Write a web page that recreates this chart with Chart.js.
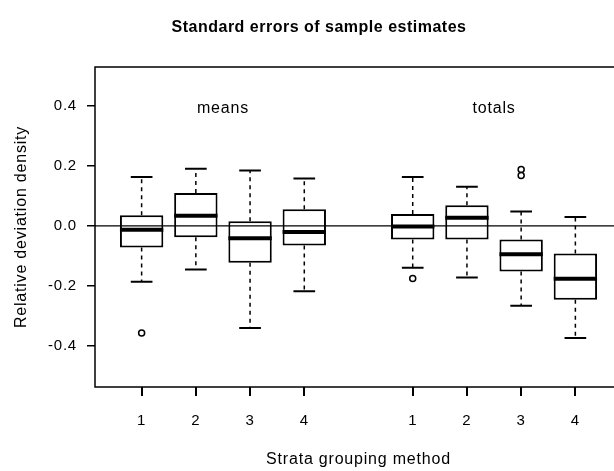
<!DOCTYPE html>
<html>
<head>
<meta charset="utf-8">
<script src="https://cdn.jsdelivr.net/npm/chart.js@4/dist/chart.umd.min.js"></script>
<style>
  html, body { margin: 0; padding: 0; overflow: hidden; background: #fff; }
  #wrap { width: 630px; height: 471px; }
</style>
</head>
<body>
<div id="wrap"><canvas id="chart"></canvas></div>
<script>
// box positions on the x axis (gap at 5 between the two groups)
const positions = [1, 2, 3, 4, 6, 7, 8, 9]
const tickLabels = ['1', '2', '3', '4', '1', '2', '3', '4']
const yTicks = [-0.4, -0.2, 0.0, 0.2, 0.4]
const groupLabels = ['means', 'totals']

// five number summaries
const lowerWhisker = [-0.186, -0.145, -0.340, -0.218, -0.139, -0.172, -0.266, -0.374]
const q1           = [-0.072, -0.038, -0.123, -0.065, -0.045, -0.045, -0.152, -0.246]
const median       = [-0.013,  0.034, -0.041, -0.020, -0.002,  0.027, -0.094, -0.176]
const q3           = [ 0.036,  0.110,  0.016,  0.056,  0.040,  0.069, -0.045, -0.092]
const upperWhisker = [ 0.163,  0.191,  0.185,  0.158,  0.163,  0.131,  0.048,  0.030]

// outliers
const outlierX = [1, 6, 8, 8]
const outlierY = [-0.357, -0.175, 0.188, 0.168]

const FONT = "'Liberation Sans', Arial, Helvetica, sans-serif"
Chart.defaults.font.family = FONT
Chart.defaults.color = '#000'

const letterSpacing = {
  id: 'letterSpacing',
  beforeLayout(chart) { chart.ctx.letterSpacing = '0.8px' },
  beforeDraw(chart) { chart.ctx.letterSpacing = '0.8px' }
}

// whiskers, caps, medians, zero line
const boxExtras = {
  id: 'boxExtras',
  afterDatasetsDraw(chart) {
    const {ctx, chartArea: a, scales: {x, y}} = chart
    const half = (x.getPixelForValue(1.4) - x.getPixelForValue(1)) // half box width
    ctx.save()
    ctx.strokeStyle = '#000'
    positions.forEach((p, i) => {
      const cx = x.getPixelForValue(p)
      // dashed whiskers
      ctx.lineWidth = 1.5
      ctx.setLineDash([4, 4])
      ctx.beginPath()
      ctx.moveTo(cx, y.getPixelForValue(q3[i]))
      ctx.lineTo(cx, y.getPixelForValue(upperWhisker[i]))
      ctx.moveTo(cx, y.getPixelForValue(q1[i]))
      ctx.lineTo(cx, y.getPixelForValue(lowerWhisker[i]))
      ctx.stroke()
      ctx.setLineDash([])
      // caps
      ctx.lineWidth = 2
      ctx.beginPath()
      ctx.moveTo(cx - half / 2, y.getPixelForValue(upperWhisker[i]))
      ctx.lineTo(cx + half / 2, y.getPixelForValue(upperWhisker[i]))
      ctx.moveTo(cx - half / 2, y.getPixelForValue(lowerWhisker[i]))
      ctx.lineTo(cx + half / 2, y.getPixelForValue(lowerWhisker[i]))
      ctx.stroke()
    })
    // zero line
    ctx.lineWidth = 1.2
    ctx.beginPath()
    ctx.moveTo(a.left, y.getPixelForValue(0))
    ctx.lineTo(a.right, y.getPixelForValue(0))
    ctx.stroke()
    // medians
    ctx.lineWidth = 4
    positions.forEach((p, i) => {
      const cx = x.getPixelForValue(p)
      ctx.beginPath()
      ctx.moveTo(cx - half, y.getPixelForValue(median[i]))
      ctx.lineTo(cx + half, y.getPixelForValue(median[i]))
      ctx.stroke()
    })
    ctx.restore()
  }
}

// frame, x tick marks, group labels and title
const frame = {
  id: 'frame',
  afterDraw(chart) {
    const {ctx, chartArea: a, scales: {x, y}} = chart
    ctx.save()
    ctx.setLineDash([])
    ctx.globalAlpha = 1
    ctx.strokeStyle = '#000'
    ctx.fillStyle = '#000'
    ctx.lineWidth = 1.5
    ctx.strokeRect(a.left, a.top, a.right - a.left, a.bottom - a.top)
    // x tick marks as thin filled rects
    x.ticks.forEach(t => {
      const cx = Math.round(x.getPixelForValue(t.value))
      ctx.fillRect(cx - 1, Math.round(a.bottom), 2, 9)
    })
    ctx.textAlign = 'center'
    ctx.textBaseline = 'middle'
    ctx.letterSpacing = '0.8px'
    ctx.font = '16px ' + FONT
    const groups = [positions.slice(0, 4), positions.slice(4)]
    groups.forEach((g, k) => {
      const gx = (g[0] + g[g.length - 1]) / 2
      ctx.fillText(groupLabels[k], x.getPixelForValue(gx), y.getPixelForValue(0.39))
    })
    ctx.letterSpacing = '0.5px'
    ctx.font = 'bold 16px ' + FONT
    ctx.fillText('Standard errors of sample estimates', 319, 28)
    ctx.restore()
  }
}

new Chart(document.getElementById('chart'), {
  type: 'bar',
  data: {
    datasets: [{
      type: 'bar',
      label: 'boxes',
      data: positions.map((p, i) => ({x: p, y: [q1[i], q3[i]]})),
      backgroundColor: '#fff',
      borderColor: '#000',
      borderWidth: 2,
      borderSkipped: false,
      barPercentage: 0.8,
      categoryPercentage: 1.0
    }, {
      type: 'scatter',
      label: 'outliers',
      data: outlierX.map((p, i) => ({x: p, y: outlierY[i]})),
      pointStyle: 'circle',
      pointRadius: 3,
      pointBackgroundColor: '#fff',
      pointBorderColor: '#000',
      pointBorderWidth: 1.5
    }]
  },
  options: {
    responsive: true,
    maintainAspectRatio: false,
    animation: false,
    layout: {padding: {top: 67, right: 8, bottom: 0, left: 0}},
    plugins: {
      legend: {display: false},
      tooltip: {enabled: false}
    },
    scales: {
      x: {
        type: 'linear',
        min: 0.14,
        max: 9.86,
        offset: false,
        grid: {display: false},
        border: {display: false},
        afterBuildTicks(s) { s.ticks = positions.map(v => ({value: v})) },
        afterFit(s) { s.height = 84 },
        ticks: {
          autoSkip: false,
          maxRotation: 0,
          padding: 17,
          font: {size: 15},
          callback: (v, i) => tickLabels[i]
        },
        title: {display: true, text: 'Strata grouping method', font: {size: 16}, padding: {top: 0, bottom: 2}}
      },
      y: {
        min: -0.537,
        max: 0.53,
        grid: {display: true, offset: false, drawOnChartArea: false, drawTicks: true, tickLength: 8, color: '#000', lineWidth: 1.5},
        border: {display: false},
        afterBuildTicks(s) { s.ticks = yTicks.map(v => ({value: v})) },
        afterFit(s) { s.width = 95 },
        ticks: {
          padding: 10,
          font: {size: 15},
          callback: v => v.toFixed(1)
        },
        title: {display: true, text: 'Relative deviation density', font: {size: 16}, padding: {top: 12, bottom: 0}}
      }
    }
  },
  plugins: [letterSpacing, boxExtras, frame]
})
</script>
</body>
</html>
